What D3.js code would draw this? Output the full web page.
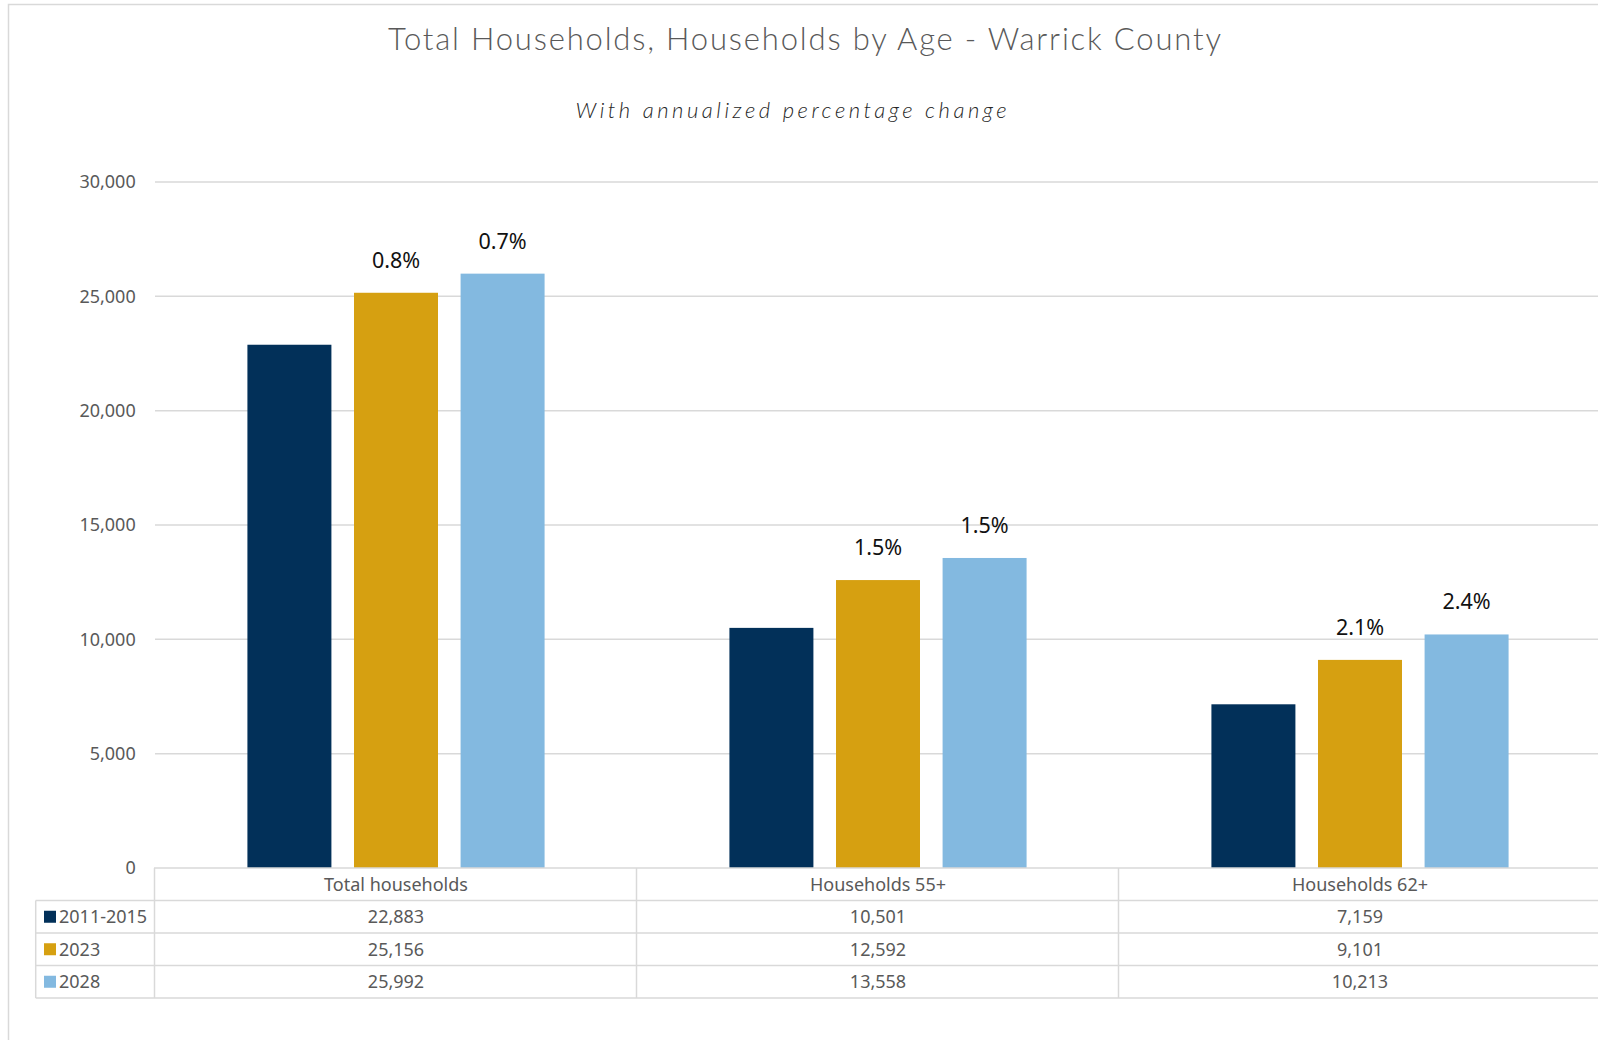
<!DOCTYPE html>
<html>
<head>
<meta charset="utf-8">
<script src="https://cdn.jsdelivr.net/npm/d3@7"></script>
<style>
  body { margin: 0; background: #ffffff; }
  svg { display: block; }
</style>
</head>
<body>
<div id="hh-chart"></div>
<script>
/*
*   Households by age for Warrick County, grouped bars with a data table underneath
*/

// Data
var categories = ["Total households", "Households 55+", "Households 62+"];
var seriesNames = ["2011-2015", "2023", "2028"];
var hh2011 = [22883, 10501, 7159];
var hh2023 = [25156, 12592, 9101];
var hh2028 = [25992, 13558, 10213];
var pct2023 = ["0.8%", "1.5%", "2.1%"];
var pct2028 = ["0.7%", "1.5%", "2.4%"];
var yTicks = [0, 5000, 10000, 15000, 20000, 25000, 30000];

var colors = ["#023059", "#d6a011", "#83b9e0"];

// series table built from the arrays above
var seriesValues = [hh2011, hh2023, hh2028];
var seriesPct = [null, pct2023, pct2028];

//Standard dimension setup, chart is cropped on the right like the original
var width = 1598, height = 1040;
var plotLeft = 155, plotRight = 1601, plotTop = 182, plotBottom = 868;
var rowH = 32.5, legendLeft = 35.7;

var svg = d3.select("#hh-chart")
  .append("svg")
  .attr("width", width)
  .attr("height", height);

// chart area border (only top + left show in the picture)
svg.append("path")
  .attr("d", `M8.5,${height} V4.5 H${width}`)
  .attr("fill", "none")
  .attr("stroke", "#d9d9d9")
  .attr("stroke-width", 1.5);

//Title and subtitle
svg.append("text")
  .attr("x", 804.5)
  .attr("y", 49.5)
  .attr("text-anchor", "middle")
  .attr("textLength", 833)
  .attr("lengthAdjust", "spacing")
  .style("font-family", "'Century Gothic', Lato, sans-serif")
  .style("font-weight", 300)
  .style("font-size", "31px")
  .style("fill", "#595959")
  .text("Total Households, Households by Age - Warrick County");

svg.append("text")
  .attr("x", 791)
  .attr("y", 118)
  .attr("text-anchor", "middle")
  .attr("textLength", 431)
  .attr("lengthAdjust", "spacing")
  .style("font-family", "'Century Gothic', Lato, sans-serif")
  .style("font-style", "italic")
  .style("font-weight", 300)
  .style("font-size", "22px")
  .style("fill", "#262626")
  .text("With annualized percentage change");

//Scales
var x = d3.scaleBand()
  .domain(categories)
  .range([plotLeft, plotRight])
  .padding(0);

var xs = d3.scaleBand()
  .domain(seriesNames)
  .range([0, x.bandwidth()])
  .paddingInner(0.212)
  .paddingOuter(0.867);

var y = d3.scaleLinear()
  .domain([0, 30000])
  .range([plotBottom, plotTop]);

//Gridlines
svg.append("g")
  .selectAll("line")
  .data(yTicks.filter(d => d > 0))
  .join("line")
  .attr("x1", plotLeft)
  .attr("x2", width)
  .attr("y1", d => y(d))
  .attr("y2", d => y(d))
  .attr("stroke", "#d9d9d9")
  .attr("stroke-width", 1.5);

//Y axis labels
var yAxis = svg.append("g")
  .attr("transform", `translate(${plotLeft}, 0)`)
  .call(d3.axisLeft(y).tickValues(yTicks).tickFormat(d3.format(",")).tickSize(0).tickPadding(19.3));
yAxis.select(".domain").remove();
yAxis.selectAll("text")
  .style("font-family", "'Noto Sans', sans-serif")
  .style("font-size", "18px")
  .style("fill", "#595959");

//Bars, one group per series
var groups = svg.append("g")
  .selectAll("g")
  .data(seriesNames)
  .join("g")
  .attr("fill", (d, i) => colors[i]);

groups.selectAll("rect")
  .data((s, si) => categories.map((c, ci) => ({ cat: c, series: s, value: seriesValues[si][ci] })))
  .join("rect")
  .attr("x", d => x(d.cat) + xs(d.series))
  .attr("y", d => y(d.value))
  .attr("width", xs.bandwidth())
  .attr("height", d => y(0) - y(d.value));

//Percentage change labels above 2023 and 2028 bars
seriesNames.forEach(function(s, si) {
  if (!seriesPct[si]) return;
  svg.append("g")
    .selectAll("text")
    .data(categories.map((c, ci) => ({ cat: c, value: seriesValues[si][ci], label: seriesPct[si][ci] })))
    .join("text")
    .attr("x", d => x(d.cat) + xs(s) + xs.bandwidth() / 2)
    .attr("y", d => y(d.value) - 25)
    .attr("text-anchor", "middle")
    .style("font-family", "'Noto Sans', sans-serif")
    .style("font-size", "21.5px")
    .style("fill", "#111111")
    .text(d => d.label);
});

//Data table under the chart
var table = svg.append("g")
  .attr("stroke", "#d9d9d9")
  .attr("stroke-width", 1.5);
var tableBottom = plotBottom + rowH * 4;

// header top line (also the zero line)
table.append("line")
  .attr("x1", plotLeft - 1).attr("x2", width)
  .attr("y1", plotBottom).attr("y2", plotBottom);
// row lines
table.selectAll(".row-line")
  .data([1, 2, 3, 4])
  .join("line")
  .attr("class", "row-line")
  .attr("x1", legendLeft).attr("x2", width)
  .attr("y1", d => plotBottom + rowH * d)
  .attr("y2", d => plotBottom + rowH * d);
// column lines
table.selectAll(".col-line")
  .data(categories)
  .join("line")
  .attr("class", "col-line")
  .attr("x1", d => x(d) - 0.5).attr("x2", d => x(d) - 0.5)
  .attr("y1", plotBottom).attr("y2", tableBottom);
table.append("line")
  .attr("x1", legendLeft).attr("x2", legendLeft)
  .attr("y1", plotBottom + rowH).attr("y2", tableBottom);

var tableText = svg.append("g")
  .style("font-family", "'Noto Sans', sans-serif")
  .style("font-size", "18px")
  .style("fill", "#595959");

// category header
tableText.selectAll(".cat-label")
  .data(categories)
  .join("text")
  .attr("class", "cat-label")
  .attr("x", d => x(d) + x.bandwidth() / 2)
  .attr("y", plotBottom + rowH / 2)
  .attr("dy", "0.35em")
  .attr("text-anchor", "middle")
  .text(d => d);

// legend keys + series names + values
seriesNames.forEach(function(s, si) {
  var rowMid = plotBottom + rowH * (si + 1) + rowH / 2;
  svg.append("rect")
    .attr("x", 44)
    .attr("y", rowMid - 6)
    .attr("width", 12)
    .attr("height", 12)
    .attr("fill", colors[si]);
  tableText.append("text")
    .attr("x", 59)
    .attr("y", rowMid)
    .attr("dy", "0.35em")
    .text(s);
  tableText.append("g")
    .selectAll("text")
    .data(categories.map((c, ci) => ({ cat: c, value: seriesValues[si][ci] })))
    .join("text")
    .attr("x", d => x(d.cat) + x.bandwidth() / 2)
    .attr("y", rowMid)
    .attr("dy", "0.35em")
    .attr("text-anchor", "middle")
    .text(d => d3.format(",")(d.value));
});
</script>
</body>
</html>
